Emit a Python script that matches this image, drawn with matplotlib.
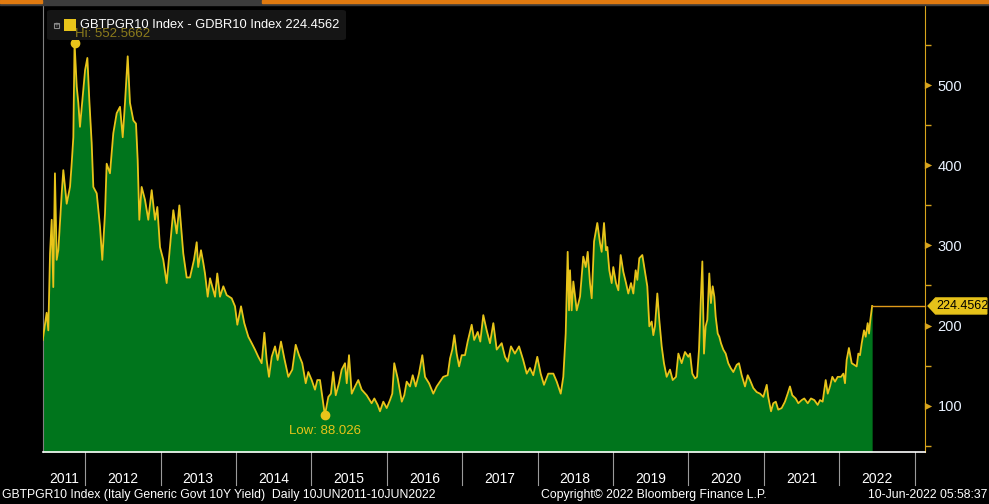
import matplotlib.pyplot as plt
from matplotlib.patches import Rectangle, FancyBboxPatch, Polygon

# BTP-Bund 10y spread (bp), x = decimal year
t = [2011.438, 2011.49, 2011.512, 2011.535, 2011.557, 2011.578, 2011.60, 2011.623, 2011.645, 2011.69,
     2011.711, 2011.756, 2011.80, 2011.822, 2011.844, 2011.86, 2011.889, 2011.91, 2011.932, 2011.968,
     2012.0, 2012.03, 2012.056, 2012.087, 2012.109, 2012.154, 2012.198, 2012.228, 2012.264, 2012.286,
     2012.33, 2012.374, 2012.419, 2012.463, 2012.499, 2012.529, 2012.565, 2012.595, 2012.64, 2012.675,
     2012.697, 2012.719, 2012.75, 2012.794, 2012.838, 2012.883, 2012.927, 2012.958, 2012.993, 2013.037,
     2013.082, 2013.126, 2013.17, 2013.215, 2013.25, 2013.302, 2013.347, 2013.391, 2013.444, 2013.48,
     2013.50, 2013.537, 2013.568, 2013.59, 2013.626, 2013.657, 2013.70, 2013.723, 2013.753, 2013.789,
     2013.833, 2013.878, 2013.944, 2013.988, 2014.019, 2014.068, 2014.111, 2014.165, 2014.21, 2014.253,
     2014.297, 2014.342, 2014.377, 2014.408, 2014.439, 2014.475, 2014.519, 2014.554, 2014.598, 2014.642,
     2014.695, 2014.748, 2014.793, 2014.837, 2014.88, 2014.926, 2014.96, 2015.005, 2015.049, 2015.08,
     2015.115, 2015.146, 2015.18, 2015.226, 2015.26, 2015.29, 2015.324, 2015.367, 2015.403, 2015.447,
     2015.47, 2015.50, 2015.536, 2015.58, 2015.623, 2015.668, 2015.735, 2015.80, 2015.836, 2015.88,
     2015.911, 2015.955, 2016.0, 2016.044, 2016.074, 2016.10, 2016.146, 2016.20, 2016.233, 2016.265,
     2016.309, 2016.345, 2016.385, 2016.428, 2016.472, 2016.508, 2016.561, 2016.618, 2016.663, 2016.707,
     2016.75, 2016.809, 2016.84, 2016.87, 2016.897, 2016.928, 2016.96, 2016.995, 2017.038, 2017.074,
     2017.127, 2017.16, 2017.207, 2017.241, 2017.281, 2017.326, 2017.37, 2017.414, 2017.459, 2017.525,
     2017.569, 2017.605, 2017.648, 2017.70, 2017.755, 2017.81, 2017.857, 2017.90, 2017.944, 2017.997,
     2018.042, 2018.086, 2018.143, 2018.21, 2018.255, 2018.308, 2018.342, 2018.374, 2018.40, 2018.418,
     2018.431, 2018.453, 2018.475, 2018.52, 2018.564, 2018.607, 2018.64, 2018.666, 2018.696, 2018.719,
     2018.75, 2018.793, 2018.829, 2018.851, 2018.882, 2018.908, 2018.926, 2018.952, 2018.984, 2019.005,
     2019.041, 2019.072, 2019.103, 2019.138, 2019.174, 2019.204, 2019.24, 2019.271, 2019.302, 2019.324,
     2019.35, 2019.39, 2019.426, 2019.456, 2019.483, 2019.514, 2019.536, 2019.558, 2019.589, 2019.615,
     2019.647, 2019.677, 2019.713, 2019.757, 2019.793, 2019.837, 2019.868, 2019.912, 2019.956, 2020.0,
     2020.023, 2020.053, 2020.089, 2020.116, 2020.142, 2020.164, 2020.186, 2020.208, 2020.23, 2020.252,
     2020.278, 2020.30, 2020.323, 2020.345, 2020.363, 2020.39, 2020.411, 2020.433, 2020.464, 2020.496,
     2020.53, 2020.562, 2020.597, 2020.642, 2020.672, 2020.708, 2020.752, 2020.788, 2020.818, 2020.862,
     2020.907, 2020.951, 2020.995, 2021.04, 2021.06, 2021.097, 2021.127, 2021.16, 2021.193, 2021.238,
     2021.282, 2021.318, 2021.348, 2021.379, 2021.424, 2021.459, 2021.504, 2021.538, 2021.584, 2021.627,
     2021.671, 2021.716, 2021.747, 2021.782, 2021.822, 2021.849, 2021.879, 2021.91, 2021.946, 2021.981,
     2022.025, 2022.056, 2022.078, 2022.10, 2022.13, 2022.167, 2022.201, 2022.233, 2022.255, 2022.277,
     2022.30, 2022.33, 2022.353, 2022.379, 2022.397, 2022.414, 2022.438]
spread = [182, 216, 194, 290, 332, 248, 390, 282, 294, 365,
          394, 352, 373, 402, 435, 552.5662, 498, 478, 448, 485,
          519, 534, 481, 428, 373, 365, 323, 282, 340, 402,
          390, 440, 465, 473, 435, 478, 536, 478, 456, 452,
          407, 332, 373, 357, 332, 369, 332, 348, 298, 282,
          253, 298, 344, 315, 350, 290, 260, 260, 282, 304,
          273, 294, 278, 265, 236, 259, 244, 236, 265, 236,
          249, 238, 234, 224, 201, 224, 203, 186, 178, 170,
          161, 153, 191, 157, 136, 161, 174, 157, 180, 159,
          136, 145, 176, 163, 153, 128, 142, 132, 120, 132,
          132, 111, 88.026, 111, 115, 142, 113, 128, 145, 153,
          128, 163, 115, 124, 132, 120, 113, 103, 109, 101,
          93, 105, 97, 107, 115, 153, 134, 105, 113, 130,
          124, 138, 124, 140, 163, 136, 128, 115, 124, 130,
          136, 138, 159, 170, 188, 165, 149, 163, 163, 180,
          201, 182, 192, 180, 213, 194, 178, 203, 170, 178,
          161, 155, 174, 165, 174, 157, 140, 147, 138, 161,
          140, 126, 140, 140, 130, 115, 136, 190, 292, 219,
          269, 219, 255, 219, 236, 286, 273, 292, 253, 234,
          305, 328, 303, 292, 328, 294, 298, 269, 253, 273,
          253, 244, 288, 267, 253, 240, 253, 240, 269, 257,
          284, 288, 267, 249, 199, 205, 188, 199, 240, 207,
          174, 153, 136, 145, 132, 136, 165, 153, 167, 161,
          165, 140, 134, 136, 170, 228, 280, 165, 199, 207,
          265, 228, 249, 236, 211, 190, 186, 178, 170, 165,
          153, 147, 142, 151, 153, 138, 124, 138, 132, 122,
          117, 115, 111, 126, 111, 93, 103, 105, 95, 97,
          105, 115, 124, 113, 109, 103, 107, 109, 103, 109,
          107, 101, 107, 105, 132, 115, 124, 136, 130, 136,
          136, 140, 128, 157, 172, 153, 151, 149, 165, 163,
          178, 194, 186, 203, 190, 207, 224.4562]

years = list(range(2011, 2023))
major_ticks = [100, 200, 300, 400, 500]
minor_ticks = [50, 150, 250, 350, 450, 550]
hi_t, hi_v = 2011.86, 552.5662
lo_t, lo_v = 2015.18, 88.026
last_v = 224.4562

green = '#00751c'
yellow = '#e8c41a'
orange = '#e09a1a'
font = 'Liberation Sans'
W, H = 989, 504

fig = plt.figure(figsize=(W / 100, H / 100), dpi=100, facecolor='black')
ax = fig.add_axes([42.5 / W, 52 / H, (925 - 42.5) / W, (452 - 6) / H])
ax.set_facecolor('black')
xmin, xmax = 2011.435, 2023.139
ymin, ymax = 42.2, 598.8

ax.fill_between(t, spread, ymin, color=green, lw=0, zorder=2)
ax.plot(t, spread, color=yellow, lw=1.3, zorder=3)
ax.plot([t[-1], t[-1], xmax], [spread[-1], last_v, last_v], color=orange, lw=1, zorder=3, clip_on=False)
ax.set_xlim(xmin, xmax)
ax.set_ylim(ymin, ymax)

# spines
ax.spines['top'].set_visible(False)
ax.spines['left'].set_color('#808080')
ax.spines['bottom'].set_color('white')
ax.spines['bottom'].set_linewidth(1.2)
ax.spines['right'].set_color('#d8a41c')

# right axis
ax.yaxis.tick_right()
ax.set_yticks(major_ticks)
ax.set_yticks(minor_ticks, minor=True)
ax.tick_params(axis='y', which='major', length=0, pad=9, labelcolor='#eaf2ff', labelsize=10.5)
ax.tick_params(axis='y', which='minor', length=4, color='#d8a41c', width=1)
ax.set_xticks([])
for lbl in ax.get_yticklabels():
    lbl.set_fontfamily(font)
ytr = ax.get_yaxis_transform()
ax.scatter([1.0035] * len(major_ticks), major_ticks, marker='>', s=28, color='#d8a41c',
           transform=ytr, clip_on=False, zorder=5, linewidths=0)

# year separators and labels
xtr = ax.get_xaxis_transform()
for y in years[1:] + [2023]:
    ax.plot([y, y], [0, -33 / 446], color='#9a9a9a', lw=0.8, transform=xtr, clip_on=False)
for y in years:
    x0 = max(y, t[0])
    ax.text((x0 + y + 1) / 2, -27 / 446, str(y), transform=xtr, ha='center', va='center',
            color='white', fontsize=10, family=font)

# hi / low markers
ax.plot([hi_t], [hi_v], 'o', color=yellow, ms=6, clip_on=False, zorder=6)
ax.plot([lo_t], [lo_v], 'o', color=yellow, ms=6, zorder=6)
ax.annotate('Low: %.3f' % lo_v, (lo_t, lo_v), xytext=(0, -11), textcoords='offset points',
            ha='center', va='center', color=yellow, fontsize=9.5, family=font, zorder=6)

# last value tag
v = last_v
tag = Polygon([(1.0035, v), (1.012, v + 10), (1.070, v + 10), (1.070, v - 10), (1.012, v - 10)],
              closed=True, transform=ytr, color='#e6c21a', clip_on=False, zorder=6)
ax.add_patch(tag)
ax.text(1.042, v, '224.4562', transform=ytr, ha='center', va='center', color='black',
        fontsize=9, family=font, zorder=7)

# legend box
fig.patches.append(FancyBboxPatch((47 / W, 1 - 40 / H), 299 / W, 30 / H, boxstyle='round,pad=0,rounding_size=0.004',
                                  transform=fig.transFigure, facecolor='#151515', edgecolor='none', zorder=10))
fig.patches.append(Rectangle((64 / W, 1 - 31 / H), 12 / W, 12 / H, transform=fig.transFigure,
                             facecolor=yellow, edgecolor='none', zorder=11))
fig.patches.append(Rectangle((54 / W, 1 - 27.5 / H), 5 / W, 5 / H, transform=fig.transFigure,
                             facecolor='none', edgecolor='#8a8a8a', lw=0.8, zorder=11))
fig.text(56.5 / W, 1 - 25 / H, '+', color='#8a8a8a', fontsize=5, ha='center', va='center', zorder=12)
fig.text(80 / W, 1 - 25 / H, 'GBTPGR10 Index - GDBR10 Index 224.4562', color='white',
         fontsize=9.3, family=font, ha='left', va='center', zorder=12)
fig.text(75 / W, 1 - 34 / H, 'Hi: %.4f' % hi_v, color='#8c7c1c', fontsize=9.5,
         family=font, ha='left', va='center', zorder=11)

# top strip
fig.patches.append(Rectangle((0, 1 - 5 / H), 1, 5 / H, transform=fig.transFigure, color='#3c3c3c', zorder=1))
fig.patches.append(Rectangle((0, 1 - 3 / H), 42 / W, 3 / H, transform=fig.transFigure, color='#e07a10', zorder=2))
fig.patches.append(Rectangle((262 / W, 1 - 3 / H), 1 - 262 / W, 3 / H, transform=fig.transFigure, color='#e07a10', zorder=2))

# footer
fy = 9 / H
fig.text(2 / W, fy, 'GBTPGR10 Index (Italy Generic Govt 10Y Yield)  Daily 10JUN2011-10JUN2022',
         color='white', fontsize=8.8, family=font, ha='left', va='center')
fig.text(541 / W, fy, 'Copyright\u00a9 2022 Bloomberg Finance L.P.', color='white', fontsize=8.8,
         family=font, ha='left', va='center')
fig.text(987 / W, fy, '10-Jun-2022 05:58:37', color='white', fontsize=8.8, family=font,
         ha='right', va='center')

plt.savefig('out.png', dpi=100, facecolor='black')
